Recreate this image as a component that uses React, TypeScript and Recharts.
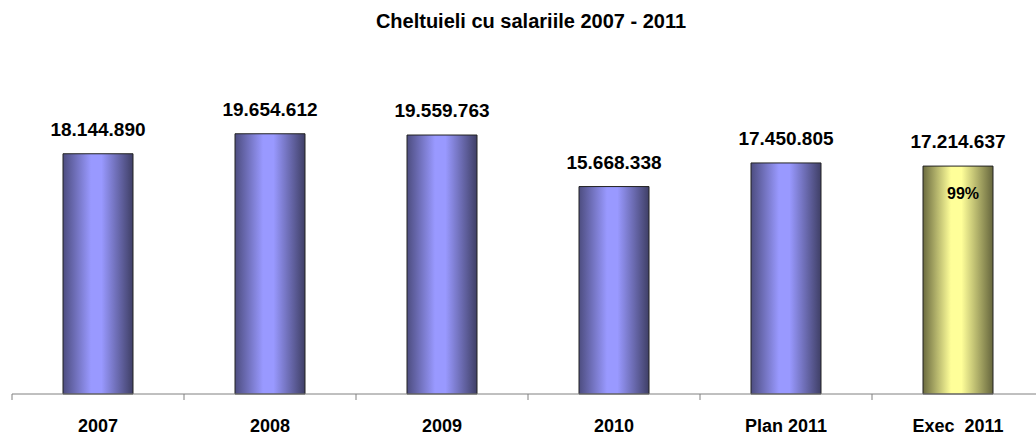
import React from 'react'
import { BarChart, Bar, XAxis, YAxis, LabelList, Cell } from 'recharts'

// values (lei)
const categories = ['2007', '2008', '2009', '2010', 'Plan 2011', 'Exec  2011']
const amounts = [18144890, 19654612, 19559763, 15668338, 17450805, 17214637]
const amountLabels = ['18.144.890', '19.654.612', '19.559.763', '15.668.338', '17.450.805', '17.214.637']
const innerLabels = ['', '', '', '', '', '99%']
const highlighted = [false, false, false, false, false, true]

const data = categories.map((name, i) => ({
  name,
  value: amounts[i],
  label: amountLabels[i],
  inner: innerLabels[i],
  hi: highlighted[i],
}))

const FONT = 'Arial, "Liberation Sans", sans-serif'

const CategoryTick = (props: any) => {
  const { x, y, payload } = props
  const half = payload && payload.offset ? payload.offset : 86
  // recharts places the tick 8px below the axis line (tickSize + tickMargin)
  const axisY = y - 8
  return (
    <g>
      <line x1={x - half} y1={axisY} x2={x - half} y2={axisY + 6} stroke="#808080" strokeWidth={1} />
      <text
        x={x}
        y={axisY + 32}
        textAnchor="middle"
        dominantBaseline="central"
        fontFamily={FONT}
        fontWeight="bold"
        fontSize={18}
        fill="#000"
        style={{ whiteSpace: 'pre' }}
      >
        {payload.value}
      </text>
    </g>
  )
}

const InnerLabel = (props: any) => {
  const { x, y, width, value } = props
  if (!value) return null
  return (
    <text
      x={x + width / 2 + 5}
      y={y + 27}
      textAnchor="middle"
      dominantBaseline="central"
      fontFamily={FONT}
      fontWeight="bold"
      fontSize={16}
      fill="#000"
    >
      {value}
    </text>
  )
}

export default function App() {
  return (
    <div style={{ position: 'absolute', left: 0, top: 0, width: 1036, height: 435, overflow: 'hidden', background: '#fff' }}>
      <div
        style={{
          position: 'absolute',
          top: 10,
          left: 0,
          width: 1062,
          textAlign: 'center',
          fontFamily: FONT,
          fontWeight: 'bold',
          fontSize: 20,
          color: '#000',
        }}
      >
        Cheltuieli cu salariile 2007 - 2011
      </div>
      <BarChart
        width={1050}
        height={435}
        data={data}
        margin={{ top: 63, right: 6, bottom: 0, left: 12 }}
      >
        <defs>
          <linearGradient id="blueBar" x1="0" y1="0" x2="1" y2="0">
            <stop offset="0%" stopColor="#4d4d80" />
            <stop offset="40%" stopColor="#9999ff" />
            <stop offset="55%" stopColor="#9999ff" />
            <stop offset="100%" stopColor="#3f3f66" />
          </linearGradient>
          <linearGradient id="yellowBar" x1="0" y1="0" x2="1" y2="0">
            <stop offset="0%" stopColor="#6b6b40" />
            <stop offset="40%" stopColor="#ffff99" />
            <stop offset="55%" stopColor="#ffff99" />
            <stop offset="100%" stopColor="#66663d" />
          </linearGradient>
        </defs>
        <XAxis
          dataKey="name"
          height={41}
          axisLine={{ stroke: '#808080' }}
          tickLine={false}
          tick={<CategoryTick />}
          interval={0}
        />
        <YAxis hide domain={[0, 25000000]} />
        <Bar dataKey="value" barSize={70} stroke="#222" strokeWidth={1} isAnimationActive={false}>
          {data.map((d, i) => (
            <Cell key={i} fill={d.hi ? 'url(#yellowBar)' : 'url(#blueBar)'} />
          ))}
          <LabelList
            dataKey="label"
            position="top"
            offset={18}
            style={{ fontFamily: FONT, fontWeight: 'bold', fontSize: 19, fill: '#000' }}
          />
          <LabelList dataKey="inner" content={<InnerLabel />} />
        </Bar>
      </BarChart>
    </div>
  )
}
